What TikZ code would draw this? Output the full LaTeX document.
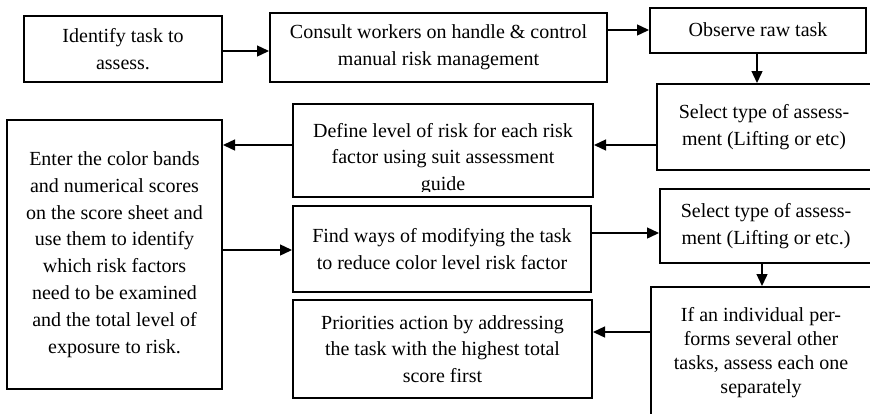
\documentclass[tikz,border=0pt]{standalone}
\usepackage{fontspec}
\setmainfont{Liberation Serif}
\usetikzlibrary{arrows.meta}

\begin{document}
\begin{tikzpicture}[x=0.5pt,y=-0.5pt,font=\fontsize{10}{13.4}\selectfont]
		\tikzstyle{stage}=[draw,line width=1pt,rectangle,inner sep=0pt,align=center]
		\tikzstyle{flow}=[line width=0.7pt,-{Triangle[length=6pt,width=5.5pt]}]
		
		\fill[white] (0,0) rectangle (870,413);
		\useasboundingbox (0,0) rectangle (870,413);
		
		% top row
		\node[stage,minimum width=99pt,minimum height=33pt](ident) at (123,49){Identify task to\\assess.};
		\node[stage,minimum width=168.5pt,minimum height=34.5pt](consult) at (438.5,47.5){Consult workers on handle \& control\\manual risk management};
		\node[stage,minimum width=108pt,minimum height=22.5pt](observe) at (758,30){Observe raw task};
		
		% right column
		\node[stage,minimum width=107pt,minimum height=43pt](select1) at (764,127){Select type of assess-\\ment (Lifting or etc)};
		\node[stage,minimum width=106pt,minimum height=37pt](select2) at (766,226){Select type of assess-\\ment (Lifting or etc.)};
		\node[stage,minimum width=110pt,minimum height=65.5pt,font=\fontsize{10}{11.9}\selectfont](indiv) at (761,352.5){If an individual per-\\forms several other\\tasks, assess each one\\separately};
		
		% middle column
		\node[stage,minimum width=150pt,minimum height=46.5pt](define) at (443,150.5){};
		\begin{scope}
		\clip (define.north west) rectangle ([yshift=3.5pt]define.south east);
		\node[align=center,inner sep=0pt](definetext) at (443,159){Define level of risk for each risk\\factor using suit assessment\\guide};
		\end{scope}
		\node[stage,minimum width=149pt,minimum height=43pt](find) at (442,249){Find ways of modifying the task\\to reduce color level risk factor};
		\node[stage,minimum width=149.5pt,minimum height=49pt](prior) at (442.5,349){Priorities action by addressing\\the task with the highest total\\score first};
		
		% left column
		\node[stage,minimum width=107.5pt,minimum height=134.5pt](enter) at (114.5,254.5){Enter the color bands\\and numerical scores\\on the score sheet and\\use them to identify\\which risk factors\\need to be examined\\and the total level of\\exposure to risk.};
		
		\draw[flow] ([yshift=-1pt]ident.east) -- ([yshift=-1pt]ident.east -| consult.west);
		\draw[flow] (observe -| consult.east) -- (observe.west);
		\draw[flow] ([xshift=-0.5pt]observe.south) -- ([xshift=-0.5pt]observe.south |- select1.north);
		\draw[flow] ([yshift=-9pt]select1.west) -- ([yshift=-9pt]select1.west -| define.east);
		\draw[flow] ([yshift=2.75pt]define.west) -- ([yshift=2.75pt]define.west -| enter.east);
		\draw[flow] ([yshift=-0.5pt]find.west -| enter.east) -- ([yshift=-0.5pt]find.west);
		\draw[flow] ([yshift=-3.5pt]select2.west -| find.east) -- ([yshift=-3.5pt]select2.west);
		\draw[flow] ([xshift=-2pt]select2.south) -- ([xshift=-2pt]select2.south |- indiv.north);
		\draw[flow] ([yshift=8.5pt]prior.east -| indiv.west) -- ([yshift=8.5pt]prior.east);
		\end{tikzpicture}
\end{document}
